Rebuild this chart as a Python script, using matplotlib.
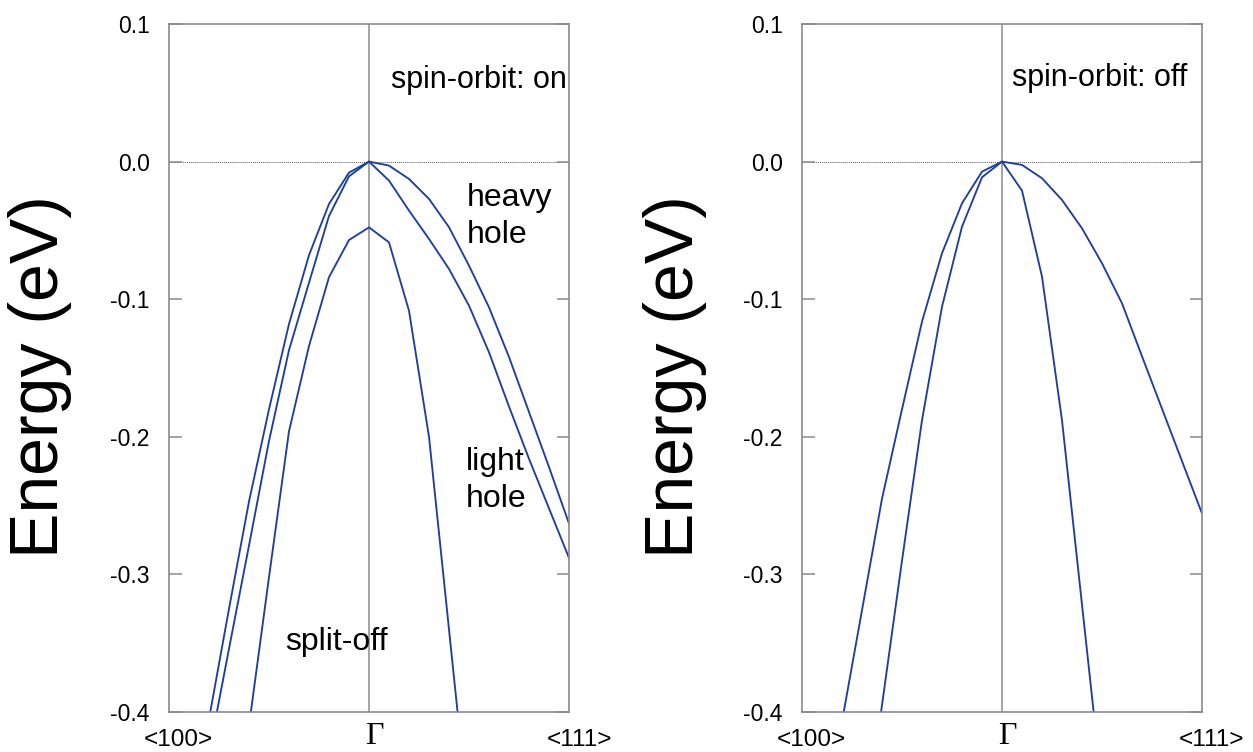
import numpy as np
import matplotlib
matplotlib.use("Agg")
import matplotlib.pyplot as plt
import matplotlib.transforms as mtransforms

plt.rcParams['font.family'] = ['Liberation Sans', 'DejaVu Sans']
plt.rcParams['axes.unicode_minus'] = False

nan = np.nan

# k index along each direction, 0 = Gamma, 10 = zone edge of the plotted range
k_steps = np.arange(0, 11)

# spin-orbit: on  (energies in eV)
on_hh_100 = [0, -0.0080, -0.0308, -0.068, -0.118, -0.180, -0.247, -0.325, -0.405, nan, nan]
on_lh_100 = [0, -0.0107, -0.0395, -0.088, -0.137, -0.203, -0.279, -0.354, -0.430, nan, nan]
on_so_100 = [-0.0478, -0.057, -0.084, -0.134, -0.196, -0.302, -0.410, nan, nan, nan, nan]
on_hh_111 = [0, -0.0029, -0.0126, -0.0271, -0.0477, -0.0756, -0.1059, -0.142, -0.182, -0.222, -0.263]
on_lh_111 = [0, -0.0138, -0.0356, -0.0562, -0.078, -0.1047, -0.1386, -0.178, -0.216, -0.252, -0.288]
on_so_111 = [-0.0478, -0.0587, -0.1084, -0.200, -0.340, -0.480, nan, nan, nan, nan, nan]

# spin-orbit: off
off_hh_100 = [0, -0.0073, -0.0303, -0.0666, -0.1163, -0.180, -0.245, -0.326, -0.407, nan, nan]
off_lh_100 = [0, -0.0114, -0.0473, -0.1055, -0.188, -0.290, -0.395, -0.500, nan, nan, nan]
off_hh_111 = [0, -0.0024, -0.0121, -0.0279, -0.0485, -0.0739, -0.103, -0.1415, -0.1796, -0.2177, -0.2557]
off_lh_111 = [0, -0.0211, -0.0836, -0.188, -0.322, -0.456, nan, nan, nan, nan, nan]

bands_on = [(on_hh_100, on_hh_111), (on_lh_100, on_lh_111), (on_so_100, on_so_111)]
bands_off = [(off_hh_100, off_hh_111), (off_lh_100, off_lh_111)]

y_ticks = [0.1, 0.0, -0.1, -0.2, -0.3, -0.4]
x_labels = ['<100>', 'Γ', '<111>']

line_color = '#1f3f9f'
frame_color = '#8a8a8a'

W, H = 1253, 752
fig = plt.figure(figsize=(W / 100, H / 100), dpi=100)


def make_panel(left_px, bands, so_text, so_pos):
    ax = fig.add_axes([left_px / W, (H - 712) / H, 400 / W, 688 / H])
    for left_branch, right_branch in bands:
        x = np.concatenate([-k_steps[::-1], k_steps[1:]])
        y = np.concatenate([np.array(left_branch, float)[::-1], np.array(right_branch, float)[1:]])
        ax.plot(x, y, color=line_color, lw=1.35)
    ax.axvline(0, color=frame_color, lw=1.1, zorder=0)
    ax.axhline(0, color='#555555', lw=0.7, ls=(0, (1, 1)), zorder=0)
    ax.set_xlim(-10, 10)
    ax.set_ylim(-0.4, 0.1)
    ax.set_yticks(y_ticks)
    ax.set_yticklabels(['%.1f' % v for v in y_ticks])
    ax.set_xticks([])
    ax.tick_params(axis='y', direction='in', length=9, width=1.1, color=frame_color,
                   right=True, labelsize=16.5, pad=14)
    for sp in ax.spines.values():
        sp.set_color(frame_color)
        sp.set_linewidth(1.2)

    # k-point labels below the axis
    for xpos, lab, dx in zip([-10, 0, 10], x_labels, [9, 5, 10]):
        tr = mtransforms.offset_copy(ax.get_xaxis_transform(), fig=fig, x=dx, y=0, units='dots')
        if lab == 'Γ':
            ax.text(xpos, -24 / 688, lab, transform=tr, ha='center', va='center',
                    fontsize=23, family=['Liberation Serif', 'DejaVu Serif'])
        else:
            ax.text(xpos, -28 / 688, lab, transform=tr, ha='center', va='center', fontsize=17.5)

    ax.text(so_pos[0], so_pos[1], so_text, ha='left', va='center', fontsize=22)
    return ax


ax1 = make_panel(169, bands_on, 'spin-orbit: on', (1.08, 0.059))
ax2 = make_panel(802, bands_off, 'spin-orbit: off', (0.5, 0.061))

ax1.text(4.9, -0.040, 'heavy\nhole', ha='left', va='center', fontsize=23, linespacing=1.3)
ax1.text(4.85, -0.2315, 'light\nhole', ha='left', va='center', fontsize=23, linespacing=1.3)
ax1.text(-4.2, -0.349, 'split-off', ha='left', va='center', fontsize=23)

fig.text(40 / W, 1 - 377 / H, 'Energy (eV)', rotation=90, ha='center', va='center', fontsize=49)
fig.text(675 / W, 1 - 377 / H, 'Energy (eV)', rotation=90, ha='center', va='center', fontsize=49)

fig.savefig('out.png', dpi=100)
